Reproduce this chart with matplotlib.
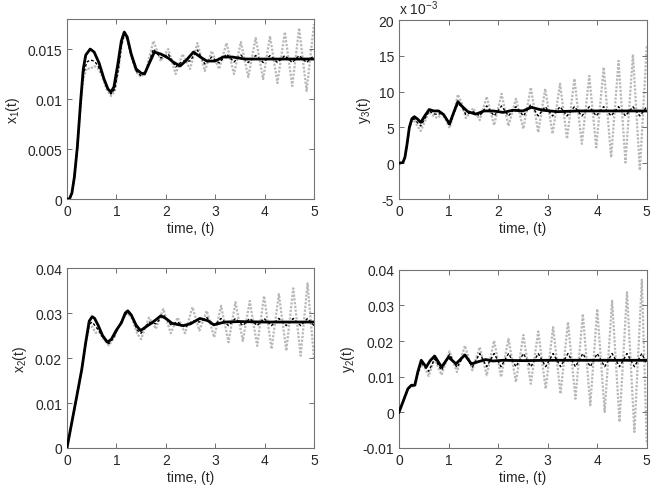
import numpy as np
import matplotlib
matplotlib.use("Agg")
import matplotlib.pyplot as plt

plt.rcParams['font.family'] = ['Liberation Sans', 'DejaVu Sans']
plt.rcParams['font.size'] = 10
plt.rcParams['mathtext.fontset'] = 'custom'
plt.rcParams['mathtext.rm'] = 'Liberation Sans'
plt.rcParams['mathtext.it'] = 'Liberation Sans'

# ---- x1(t), values x 1e-3 ----
t_x1_solid = [0, 0.05, 0.10, 0.15, 0.21, 0.28, 0.33, 0.38, 0.47, 0.55, 0.65, 0.75, 0.83, 0.89, 0.95,
              1.03, 1.10, 1.16, 1.22, 1.30, 1.40, 1.50, 1.57, 1.65, 1.77, 1.90, 2.05, 2.15, 2.29, 2.40,
              2.56, 2.70, 2.83, 3.00, 3.16, 3.35, 3.60, 4.00, 4.50, 5.00]
x1_solid = [0, 0, 0.6, 2.2, 5.2, 10.0, 13.0, 14.4, 15.0, 14.7, 13.6, 12.0, 11.0, 10.7, 11.2,
            13.5, 15.8, 16.7, 16.2, 14.5, 13.0, 12.6, 12.5, 13.4, 14.7, 14.5, 14.1, 13.7, 13.3, 13.8,
            14.7, 14.2, 13.8, 13.8, 14.2, 14.2, 14.0, 14.0, 14.0, 14.0]
t_x1_early = [0, 0.05, 0.10, 0.15, 0.21, 0.28, 0.33, 0.40, 0.47, 0.55, 0.62, 0.70, 0.80, 0.89, 0.97,
              1.05, 1.10, 1.16, 1.22, 1.30, 1.40, 1.50, 1.60]
x1_dot_early = [0, 0, 0.6, 2.2, 5.2, 9.8, 12.4, 13.7, 13.9, 13.8, 13.4, 12.6, 11.3, 10.5, 11.0,
                13.3, 15.3, 16.5, 16.0, 14.3, 12.8, 12.3, 12.8]
x1_gray_early = [0, 0, 0.6, 2.2, 5.2, 9.6, 12.0, 13.1, 13.0, 13.3, 13.1, 12.4, 11.0, 10.3, 10.8,
                 13.2, 15.2, 16.5, 16.0, 14.3, 12.7, 12.2, 12.9]
t_x1_osc = [1.75, 1.90, 2.05, 2.20, 2.34, 2.49, 2.64, 2.79, 2.93, 3.08, 3.23, 3.38, 3.52, 3.67,
            3.82, 3.97, 4.11, 4.26, 4.41, 4.56, 4.70, 4.85, 5.00]
x1_gray_osc = [15.8, 13.8, 15.0, 12.5, 14.5, 13.0, 15.6, 12.8, 14.8, 13.0, 15.6, 12.5, 15.7, 12.2,
               16.1, 12.0, 16.3, 11.6, 16.7, 11.3, 17.1, 10.8, 17.5]
x1_dot_osc = [15.0, 14.1, 14.5, 13.2, 13.8, 13.8, 14.9, 13.5, 14.2, 13.6, 14.5, 13.7, 14.4, 13.65,
              14.35, 13.65, 14.35, 13.65, 14.35, 13.65, 14.35, 13.65, 14.35]

# ---- y3(t), values x 1e-3 ----
t_y3_solid = [0, 0.08, 0.12, 0.16, 0.21, 0.26, 0.31, 0.37, 0.44, 0.52, 0.61, 0.70, 0.80, 0.90, 1.02,
              1.10, 1.19, 1.28, 1.39, 1.55, 1.72, 1.90, 2.10, 2.30, 2.50, 2.67, 2.90, 3.20, 3.60, 4.00, 5.00]
y3_solid = [0, 0.1, 0.8, 2.5, 5.0, 6.2, 6.5, 6.2, 5.7, 6.6, 7.5, 7.3, 7.3, 6.8, 5.5,
            7.0, 8.6, 7.9, 7.2, 6.85, 7.3, 7.3, 7.1, 7.4, 7.3, 7.8, 7.4, 7.2, 7.3, 7.3, 7.3]
t_y3_early = [0, 0.08, 0.12, 0.16, 0.21, 0.26, 0.31, 0.37, 0.44, 0.52, 0.61, 0.70, 0.78, 0.87, 0.95,
              1.02, 1.10, 1.19, 1.27, 1.35, 1.50, 1.63]
y3_gray_early = [0, 0.1, 0.8, 2.5, 4.9, 5.8, 6.0, 5.2, 4.5, 5.8, 7.2, 6.6, 6.3, 6.9, 6.0,
                 4.9, 6.8, 9.6, 8.3, 6.3, 7.7, 6.0]
y3_dot_early = [0, 0.1, 0.8, 2.5, 4.9, 6.0, 6.2, 5.7, 5.2, 6.2, 7.3, 6.9, 6.8, 7.0, 6.3,
                5.2, 6.8, 8.3, 7.9, 6.8, 7.2, 6.6]
t_y3_osc = [1.77, 1.92, 2.07, 2.21, 2.36, 2.51, 2.66, 2.81, 2.95, 3.10, 3.25, 3.39, 3.54, 3.69,
            3.84, 3.98, 4.13, 4.28, 4.43, 4.57, 4.72, 4.86, 5.00]
y3_gray_osc = [9.3, 5.3, 9.7, 5.2, 9.0, 4.8, 10.6, 4.3, 10.4, 4.1, 11.1, 3.4, 11.8, 2.7,
               12.2, 2.2, 13.4, 0.8, 14.3, 0.1, 15.2, -1.0, 16.5]
y3_dot_osc = [8.0, 6.6, 8.0, 6.6, 7.9, 6.6, 8.2, 6.6, 7.9, 6.6, 7.9, 6.6, 7.9, 6.6,
              7.9, 6.6, 7.9, 6.6, 7.9, 6.6, 7.9, 6.6, 7.9]

# ---- x2(t), values x 1e-3 ----
t_x2_solid = [0, 0.10, 0.20, 0.30, 0.38, 0.45, 0.51, 0.56, 0.63, 0.72, 0.82, 0.90, 1.00, 1.10, 1.18,
              1.23, 1.30, 1.40, 1.49, 1.58, 1.69, 1.80, 1.90, 2.00, 2.13, 2.35, 2.50, 2.69, 2.85, 2.97,
              3.20, 3.50, 4.00, 5.00]
x2_solid = [0, 5.8, 11.6, 17.5, 23.5, 28.2, 29.2, 28.8, 27.3, 25.0, 23.5, 24.2, 26.2, 27.8, 30.0,
            30.5, 29.6, 27.3, 26.1, 26.8, 27.6, 28.5, 29.4, 28.8, 27.7, 27.2, 27.6, 28.8, 28.3, 27.4,
            28.0, 28.1, 28.0, 28.0]
t_x2_early = [0, 0.10, 0.20, 0.30, 0.38, 0.45, 0.51, 0.58, 0.65, 0.75, 0.85, 0.95, 1.05, 1.15, 1.23,
              1.32, 1.42, 1.50]
x2_gray_early = [0, 5.8, 11.6, 17.5, 23.3, 26.8, 27.0, 25.6, 25.8, 24.0, 22.8, 24.5, 27.0, 29.0, 30.0,
                 28.7, 25.5, 24.2]
x2_dot_early = [0, 5.8, 11.6, 17.5, 23.4, 27.5, 28.0, 27.0, 26.0, 24.2, 23.2, 24.6, 27.0, 29.2, 30.2,
                29.0, 26.2, 25.5]
t_x2_osc = [1.66, 1.80, 1.95, 2.10, 2.24, 2.39, 2.54, 2.68, 2.83, 2.98, 3.12, 3.27, 3.41, 3.56,
            3.70, 3.85, 3.99, 4.14, 4.29, 4.44, 4.58, 4.73, 4.87, 5.00]
x2_gray_osc = [29.0, 26.5, 30.9, 25.5, 29.0, 25.5, 31.3, 26.1, 30.5, 24.6, 31.6, 23.5, 32.4, 23.8,
               32.7, 22.7, 33.8, 22.0, 34.2, 21.6, 35.5, 20.5, 36.6, 20.0]
x2_dot_osc = [28.0, 27.6, 29.6, 27.4, 28.0, 26.8, 28.3, 28.0, 29.0, 27.2, 28.8, 27.2, 28.8, 27.2,
              28.8, 27.2, 28.8, 27.2, 28.8, 27.2, 28.8, 27.2, 28.8, 27.2]

# ---- y2(t), values x 1e-3 ----
t_y2_solid = [0, 0.08, 0.18, 0.25, 0.32, 0.38, 0.45, 0.55, 0.63, 0.72, 0.86, 1.00, 1.15, 1.33, 1.46,
              1.60, 1.75, 1.90, 2.10, 2.50, 3.00, 4.00, 5.00]
y2_solid = [0, 2.9, 6.6, 7.6, 7.6, 11.3, 14.6, 12.7, 14.5, 15.8, 12.7, 15.5, 13.6, 16.1, 13.6,
            14.2, 14.8, 14.4, 14.6, 14.5, 14.6, 14.6, 14.6]
t_y2_early = [0, 0.08, 0.18, 0.25, 0.32, 0.38, 0.45, 0.52, 0.60, 0.72, 0.86]
y2_gray_early = [0, 2.9, 6.6, 7.4, 7.2, 10.5, 13.4, 12.5, 10.2, 15.0, 10.5]
y2_dot_early = [0, 2.9, 6.6, 7.5, 7.4, 10.9, 14.0, 12.8, 11.5, 15.0, 11.8]
t_y2_osc = [1.02, 1.17, 1.33, 1.48, 1.63, 1.77, 1.92, 2.06, 2.21, 2.36, 2.51, 2.66, 2.81, 2.96,
            3.11, 3.26, 3.41, 3.56, 3.71, 3.86, 4.00, 4.15, 4.30, 4.45, 4.60, 4.75, 4.90, 5.00]
y2_gray_osc = [17.1, 11.3, 18.7, 11.8, 18.3, 10.4, 20.1, 9.9, 20.6, 8.5, 21.7, 8.0, 22.7, 6.6,
               23.9, 5.2, 25.3, 3.8, 27.6, 2.0, 29.0, 0.1, 31.3, -2.7, 33.7, -5.5, 37.2, -9.0]
y2_dot_osc = [16.3, 12.6, 16.4, 12.7, 16.5, 12.8, 16.5, 12.8, 16.5, 12.8, 16.5, 12.8, 16.5, 12.8,
              16.5, 12.8, 16.5, 12.8, 16.5, 12.8, 16.5, 12.8, 16.5, 12.8, 16.5, 12.8, 16.5, 13.5]

fig = plt.figure(figsize=(6.54, 4.89), dpi=100)

panels = [
    ([0.1024, 0.591, 0.3777, 0.368], t_x1_solid, x1_solid, t_x1_early, x1_dot_early, x1_gray_early,
     t_x1_osc, x1_dot_osc, x1_gray_osc, 1e-3, (0, 0.018), [0, 0.005, 0.01, 0.015],
     ['0', '0.005', '0.01', '0.015'], r'x$_1$(t)'),
    ([0.610, 0.591, 0.379, 0.366], t_y3_solid, y3_solid, t_y3_early, y3_dot_early, y3_gray_early,
     t_y3_osc, y3_dot_osc, y3_gray_osc, 1.0, (-5, 20), [-5, 0, 5, 10, 15, 20],
     ['-5', '0', '5', '10', '15', '20'], r'y$_3$(t)'),
    ([0.1024, 0.0818, 0.3777, 0.368], t_x2_solid, x2_solid, t_x2_early, x2_dot_early, x2_gray_early,
     t_x2_osc, x2_dot_osc, x2_gray_osc, 1e-3, (0, 0.04), [0, 0.01, 0.02, 0.03, 0.04],
     ['0', '0.01', '0.02', '0.03', '0.04'], r'x$_2$(t)'),
    ([0.610, 0.0818, 0.379, 0.3646], t_y2_solid, y2_solid, t_y2_early, y2_dot_early, y2_gray_early,
     t_y2_osc, y2_dot_osc, y2_gray_osc, 1e-3, (-0.01, 0.04), [-0.01, 0, 0.01, 0.02, 0.03, 0.04],
     ['-0.01', '0', '0.01', '0.02', '0.03', '0.04'], r'y$_2$(t)'),
]

for (rect, ts, ys, te, de, ge, to, do, go, sc, ylim, yt, ytl, ylab) in panels:
    ax = fig.add_axes(rect)
    tg = np.array(te + to)
    ax.plot(tg, np.array(ge + go) * sc, color='0.72', lw=1.6, ls=(0, (1, 0.7)), zorder=1)
    ax.plot(tg, np.array(de + do) * sc, color='k', lw=1.0, ls=(0, (2, 1.5)), zorder=2)
    ax.plot(ts, np.array(ys) * sc, color='k', lw=2.0, zorder=3)
    ax.set_xlim(0, 5)
    ax.set_ylim(*ylim)
    ax.set_xticks([0, 1, 2, 3, 4, 5])
    ax.set_yticks(yt)
    ax.set_yticklabels(ytl)
    ax.tick_params(direction='in', top=True, right=True, length=3.5, width=0.6,
                   colors='0.35', labelcolor='0.15', labelsize=10)
    for s in ax.spines.values():
        s.set_color('0.45')
        s.set_linewidth(0.8)
    ax.set_xlabel('time, (t)', color='0.15', labelpad=2)
    ax.set_ylabel(ylab, color='0.15', labelpad=4)

fig.text(399 / 654, 1 - 15 / 489, r'x 10$^{-3}$', fontsize=10, color='0.15', va='baseline')

fig.savefig('out.png', dpi=100)
